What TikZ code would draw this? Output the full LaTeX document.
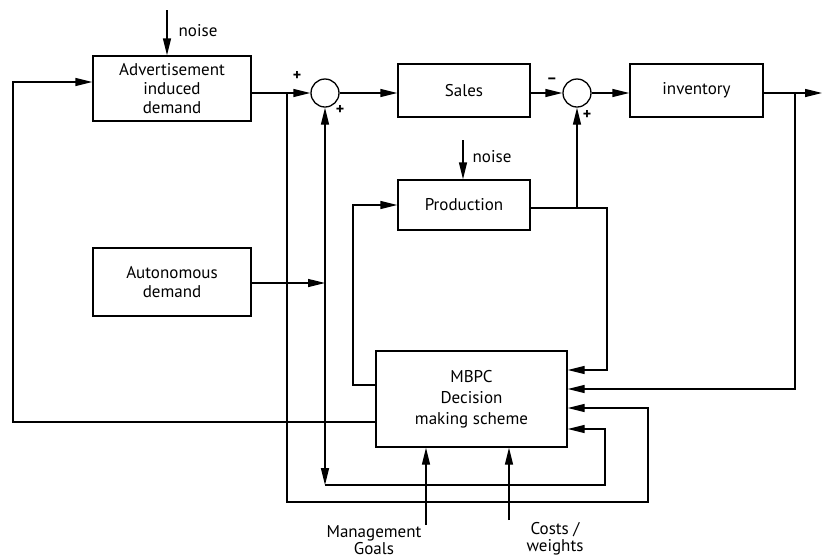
\documentclass[tikz,border=0pt]{standalone}
\usepackage{fontspec}
\setmainfont{PT Sans}
\usetikzlibrary{arrows.meta}
\begin{document}
\begin{tikzpicture}[x=1pt,y=-1pt, line width=1.3pt,
  blk/.style={draw, rectangle, inner sep=0pt, align=center, font=\fontsize{17}{19}\selectfont},
  sumj/.style={draw, circle, minimum size=28pt, inner sep=0pt},
  arr/.style={-{Triangle[length=17pt,width=8pt]}},
  lbl/.style={font=\fontsize{17}{17}\selectfont, inner sep=1pt},
  sgn/.style={font=\fontsize{16}{16}\selectfont\bfseries, inner sep=0pt}]
\useasboundingbox (0,0) rectangle (823,558);

\node[blk, minimum width=158pt, minimum height=65pt] (adv) at (172,88.5) {Advertisement\\induced\\demand};
\node[blk, minimum width=132pt, minimum height=53pt] (sales) at (464,90.5) {Sales};
\node[blk, minimum width=133pt, minimum height=53pt] (inv) at (696.5,90.5) {inventory};
\node[blk, minimum width=132pt, minimum height=50pt] (prod) at (464,205) {Production};
\node[blk, minimum width=158pt, minimum height=68pt] (auto) at (172,282) {Autonomous\\demand};
\node[blk, minimum width=191pt, minimum height=96pt, font=\fontsize{17}{21}\selectfont] (mbpc) at (471.5,399) {MBPC\\Decision\\making scheme};
\node[sumj] (s1) at (325,93) {};
\node[sumj] (s2) at (577,93) {};

\coordinate (n1) at (167,10);
\coordinate (n2) at (463,140);
\coordinate (out) at (822,93);
\coordinate (jinv) at (795,93);
\coordinate (ic) at (795,389);
\coordinate (jprod) at (577,208);
\coordinate (pc) at (607,370);
\coordinate (pl) at (353,385);
\coordinate (al) at (13,422);
\coordinate (ain) at (13,82);
\coordinate (ja) at (325,283);
\coordinate (jb) at (325,485);
\coordinate (jc) at (605,429);
\coordinate (jd) at (287,93);
\coordinate (jf) at (287,502);
\coordinate (je) at (648,408);
\coordinate (g) at (426,525);
\coordinate (c) at (509,520);

% forward path
\draw[arr] (n1) -- (n1 |- adv.north);
\draw[arr] (adv.east |- s1) -- (s1.west);
\draw[arr] (s1.east) -- (s1.east -| sales.west);
\draw[arr] (sales.east |- s2) -- (s2.west);
\draw[arr] (s2.east) -- (s2.east -| inv.west);
\draw[arr] (inv.east |- out) -- (out);
\draw[arr] (n2) -- (n2 |- prod.north);

% production
\draw[arr] (prod.east |- jprod) -| (pc) -- (pc -| mbpc.east);
\draw[arr] (jprod) -- (s2.south);

% inventory feedback
\draw[arr] (jinv) -- (ic) -- (ic -| mbpc.east);

% MBPC outputs
\draw[arr] (pl -| mbpc.west) -- (pl) |- (prod.west);
\draw[arr] (al -| mbpc.west) -- (al) -- (ain) -- (ain -| adv.west);

% autonomous demand
\draw[arr] (auto.east |- ja) -- (ja);
\draw[arr] (ja) -- (s1.south);
\draw[arr] (ja) -- (jb);
\draw[arr] (jb) -| (jc) -- (jc -| mbpc.east);

% advertisement branch
\draw[arr] (jd) -- (jf) -| (je) -- (je -| mbpc.east);

% goals and costs
\draw[arr] (g) -- (g |- mbpc.south);
\draw[arr] (c) -- (c |- mbpc.south);

% labels
\node[lbl, anchor=west] (nz1) at (177,31) {noise};
\node[lbl, anchor=west] (nz2) at (471,157) {noise};
\node[lbl, align=center] (goals) at (374,540) {Management\\Goals};
\node[lbl, align=center] (costs) at (555,539) {Costs /\\weights};
\node[sgn] (p1) at (297,76) {+};
\node[sgn] (p2) at (340,110) {+};
\node[sgn] (m1) at (552,81) {–};
\node[sgn] (p3) at (587,115) {+};
\end{tikzpicture}
\end{document}
